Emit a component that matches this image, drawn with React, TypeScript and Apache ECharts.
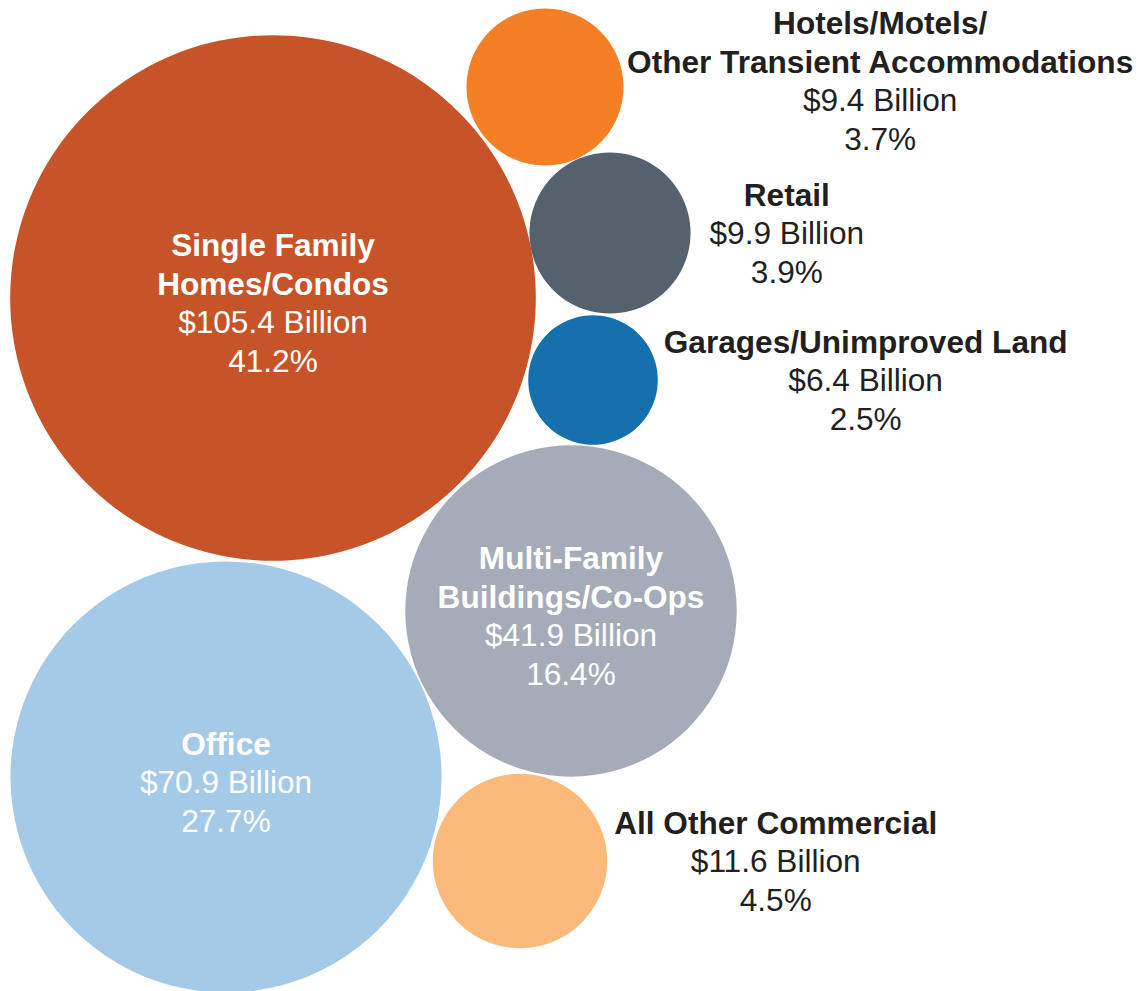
import React, { useEffect, useRef } from "react";
import * as echarts from "echarts";

const categories = [
  "Single Family\nHomes/Condos",
  "Hotels/Motels/\nOther Transient Accommodations",
  "Retail",
  "Garages/Unimproved Land",
  "Multi-Family\nBuildings/Co-Ops",
  "Office",
  "All Other Commercial",
];
const valuesBillion = [105.4, 9.4, 9.9, 6.4, 41.9, 70.9, 11.6];
const shares = ["41.2%", "3.7%", "3.9%", "2.5%", "16.4%", "27.7%", "4.5%"];
// bubble centre positions in the packed layout (layout units)
const posX = [273, 545, 610, 593, 571, 226, 520];
const posY = [298, 87, 233, 380, 611, 777, 861];
const colors = ["#C65428", "#F47F24", "#55616D", "#1570AD", "#A5ACB8", "#A4CAE8", "#FBBA7A"];
const inside = [true, false, false, false, true, true, false];
const labelDistance = [0, 3, 19, 6, 0, 0, 7];
const labelOffsetY = [5, -6, 0, 0, 5, 5, 0];

const K = 25.6;

export default function App() {
  const ref = useRef<HTMLDivElement>(null);
  useEffect(() => {
    document.body.style.margin = "0";
    const chart = echarts.init(ref.current!, undefined, { renderer: "svg" });
    const data = categories.map((c, i) => {
      const ins = inside[i];
      const textColor = ins ? "#FFFFFF" : "#231F20";
      return {
        name: c,
        value: [posX[i], posY[i], valuesBillion[i]],
        itemStyle: { color: colors[i], opacity: 1 },
        label: {
          show: true,
          opacity: 1,
          position: ins ? "inside" : "right",
          distance: labelDistance[i],
          offset: [0, labelOffsetY[i]],
          formatter: () =>
            c
              .split("\n")
              .map((l) => `{b|${l}}`)
              .join("\n") +
            `\n{n|$${valuesBillion[i]} Billion}\n{n|${shares[i]}}`,
          rich: {
            b: {
              fontFamily: "Liberation Sans, Arial, sans-serif",
              fontWeight: "bold",
              fontSize: 31.6,
              lineHeight: 38.5,
              color: textColor,
              align: "center",
            },
            n: {
              fontFamily: "Liberation Sans, Arial, sans-serif",
              fontSize: 31.6,
              lineHeight: 38.5,
              color: textColor,
              align: "center",
            },
          },
        },
      };
    });
    chart.setOption({
      animation: false,
      backgroundColor: "#FFFFFF",
      grid: { left: 0, right: 0, top: 0, bottom: 0 },
      xAxis: { type: "value", min: 0, max: 1144, show: false },
      yAxis: { type: "value", min: 0, max: 991, inverse: true, show: false },
      series: [
        {
          type: "scatter",
          symbol: "circle",
          symbolSize: (v: number[]) => 2 * K * Math.sqrt(v[2]),
          itemStyle: { opacity: 1 },
          data,
          emphasis: { disabled: true },
        },
      ],
    });
    return () => chart.dispose();
  }, []);
  return <div ref={ref} style={{ width: 1144, height: 991 }} />;
}
